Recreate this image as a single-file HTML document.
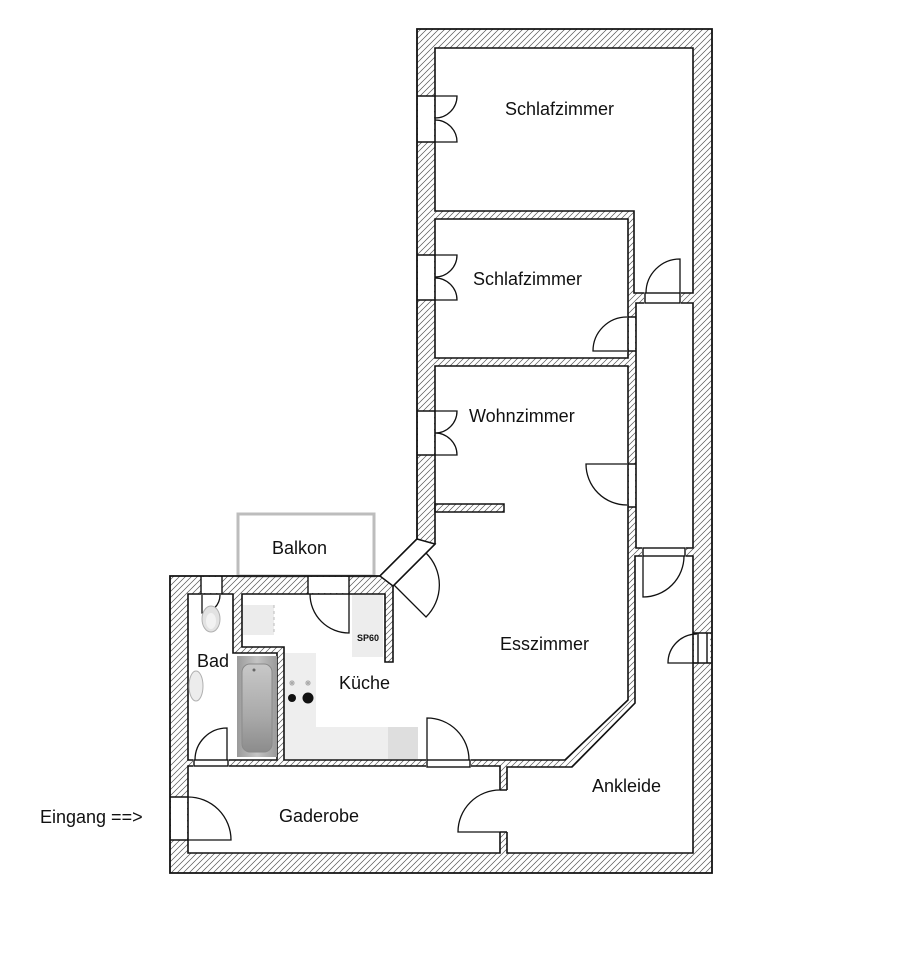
<!DOCTYPE html>
<html>
<head>
<meta charset="utf-8">
<style>
html,body{margin:0;padding:0;background:#fff;}
svg{display:block;}
text{font-family:"Liberation Sans",Arial,sans-serif;fill:#111;}
</style>
</head>
<body>
<svg width="901" height="960" viewBox="0 0 901 960" xmlns="http://www.w3.org/2000/svg">
<defs>
<pattern id="h" patternUnits="userSpaceOnUse" width="6" height="6">
<path d="M-1,1 L1,-1 M0,6 L6,0 M5,7 L7,5" stroke="#555" stroke-width="0.7"/>
</pattern>
<linearGradient id="tub" x1="0" y1="0" x2="1" y2="0">
<stop offset="0" stop-color="#9a9a9a"/><stop offset="0.5" stop-color="#c4c4c4"/><stop offset="1" stop-color="#9a9a9a"/>
</linearGradient>
<linearGradient id="tubin" x1="0" y1="0" x2="0" y2="1">
<stop offset="0" stop-color="#c8c8c8"/><stop offset="0.6" stop-color="#a9a9a9"/><stop offset="1" stop-color="#8c8c8c"/>
</linearGradient>
</defs>
<rect width="901" height="960" fill="#fff"/>

<!-- Balkon -->
<rect x="238" y="514" width="136" height="62" fill="#fff" stroke="#bdbdbd" stroke-width="3"/>

<!-- Building (walls hatched) -->
<polygon points="417,29 712,29 712,873 170,873 170,576 380,576 417,539" fill="url(#h)" stroke="#111" stroke-width="1.8"/>

<!-- Rooms -->
<g fill="#fff" stroke="#111" stroke-width="1.6" stroke-linejoin="miter">
<polygon points="435,48 693,48 693,293 634,293 634,211 435,211"/>
<polygon points="435,219 628,219 628,358 435,358"/>
<polygon points="636,303 693,303 693,548 636,548"/>
<polygon points="635,556 693,556 693,853 507,853 507,767 572,767 635,703"/>
<polygon points="435,366 628,366 628,700 565,760 284,760 284,647 242,647 242,594 385,594 385,662 393,662 393,586 435,544"/>
<polygon points="188,594 233,594 233,653 277,653 277,760 188,760"/>
<polygon points="188,766 500,766 500,853 188,853"/>
</g>

<!-- stub wall in Wohnzimmer -->
<rect x="435" y="504" width="69" height="8" fill="url(#h)" stroke="#111" stroke-width="1.5"/>

<!-- Openings -->
<g fill="#fff" stroke="none">
<rect x="418" y="96" width="16" height="46"/>
<rect x="418" y="255" width="16" height="45"/>
<rect x="418" y="411" width="16" height="44"/>
<rect x="644" y="292" width="37" height="12"/>
<rect x="629" y="317" width="6" height="34"/>
<rect x="629" y="464" width="6" height="43"/>
<rect x="642" y="547" width="44" height="10"/>
<rect x="694" y="633" width="16" height="30"/>
<rect x="171" y="797" width="16" height="43"/>
<rect x="499" y="790" width="9" height="42"/>
<rect x="426" y="759" width="45" height="9"/>
<rect x="193" y="759" width="36" height="8"/>
<rect x="308" y="577" width="41" height="16"/>
<rect x="201" y="577" width="21" height="16"/>
</g>
<g fill="none" stroke="#111" stroke-width="1.4">
<path d="M417,96 H435 M417,142 H435 M417,255 H435 M417,300 H435 M417,411 H435 M417,455 H435"/>
<rect x="645" y="293" width="35" height="10"/>
<path d="M628,317 H636 M628,351 H636 M628,464 H636 M628,507 H636"/>
<rect x="643" y="548" width="42" height="8"/>
<path d="M693,633 H711 M693,663 H711 M698,633 V663 M707,633 V663"/>
<path d="M170,797 H188 M170,840 H188"/>
<path d="M500,790 H507 M500,832 H507"/>
<rect x="427" y="760" width="43" height="7"/>
<rect x="194" y="760" width="34" height="6"/>
<path d="M308,576 V594 M349,576 V594 M201,576 V594 M222,576 V594"/>
</g>

<!-- Diagonal door opening -->
<polygon points="417,539 380,576 393,586 435,544" fill="#fff" stroke="#111" stroke-width="1.5"/>

<!-- Door swings -->
<g fill="none" stroke="#111" stroke-width="1.3">
<path d="M680,293 L680,259 A34,34 0 0 0 646,293"/>
<path d="M627,351 L593,351 A34,34 0 0 1 627,317"/>
<path d="M627,464 L586,464 A41,41 0 0 0 627,505"/>
<path d="M643,556 L643,597 A41,41 0 0 0 684,556"/>
<path d="M697,663 L668,663 A29,29 0 0 1 697,634"/>
<path d="M500,832 L458,832 A42,42 0 0 1 500,790"/>
<path d="M188,840 L231,840 A43,43 0 0 0 188,797"/>
<path d="M427,760 L427,718 A42,42 0 0 1 469,760"/>
<path d="M227,760 L227,728 A32,32 0 0 0 195,760"/>
<path d="M349,594 L349,633 A39,39 0 0 1 310,594"/>
<path d="M202,595 L202,613 A18,18 0 0 0 220,595"/>
<path d="M394,585 L426,617 A45,45 0 0 0 426,553"/>
<path d="M435,96 L457,96 A22,22 0 0 1 435,118 M435,142 L457,142 A22,22 0 0 0 435,120"/>
<path d="M435,255 L457,255 A22,22 0 0 1 435,277 M435,300 L457,300 A22,22 0 0 0 435,278"/>
<path d="M435,411 L457,411 A22,22 0 0 1 435,433 M435,455 L457,455 A22,22 0 0 0 435,433"/>
</g>

<!-- Kitchen furniture -->
<rect x="243" y="605" width="31" height="30" fill="#ececec"/>
<line x1="274" y1="605" x2="274" y2="635" stroke="#bbb" stroke-width="1" stroke-dasharray="3,3"/>
<rect x="352" y="595" width="31" height="62" fill="#ededed"/>
<text x="368" y="641" font-size="9" font-weight="bold" text-anchor="middle">SP60</text>
<path d="M285,653 H316 V727 H418 V759 H285 Z" fill="#eeeeee"/>
<rect x="388" y="727" width="30" height="32" fill="#dedede"/>
<g stroke="#aaa" stroke-width="1">
<path d="M289,683 H295 M292,680 V686 M290,681 L294,685 M294,681 L290,685"/>
<path d="M305,683 H311 M308,680 V686 M306,681 L310,685 M310,681 L306,685"/>
</g>
<circle cx="292" cy="698" r="4" fill="#111"/>
<circle cx="308" cy="698" r="5.5" fill="#111"/>

<!-- Bathroom fixtures -->
<rect x="237" y="656" width="40" height="101" fill="url(#tub)"/>
<rect x="242" y="664" width="30" height="88" rx="8" fill="url(#tubin)" stroke="#8a8a8a" stroke-width="1"/>
<circle cx="254" cy="670" r="1.5" fill="#666"/>
<ellipse cx="211" cy="619" rx="9" ry="13" fill="#e2e2e2" stroke="#b0b0b0" stroke-width="1"/>
<ellipse cx="211" cy="621" rx="5" ry="8" fill="#f2f2f2"/>
<ellipse cx="196" cy="686" rx="7" ry="15" fill="#ececec" stroke="#b0b0b0" stroke-width="1"/>

<!-- Labels -->
<g font-size="18">
<text x="505" y="115">Schlafzimmer</text>
<text x="473" y="285">Schlafzimmer</text>
<text x="469" y="422">Wohnzimmer</text>
<text x="500" y="650">Esszimmer</text>
<text x="592" y="792">Ankleide</text>
<text x="279" y="822">Gaderobe</text>
<text x="272" y="554">Balkon</text>
<text x="197" y="667">Bad</text>
<text x="339" y="689">Küche</text>
<text x="40" y="823">Eingang ==&gt;</text>
</g>
</svg>
</body>
</html>
